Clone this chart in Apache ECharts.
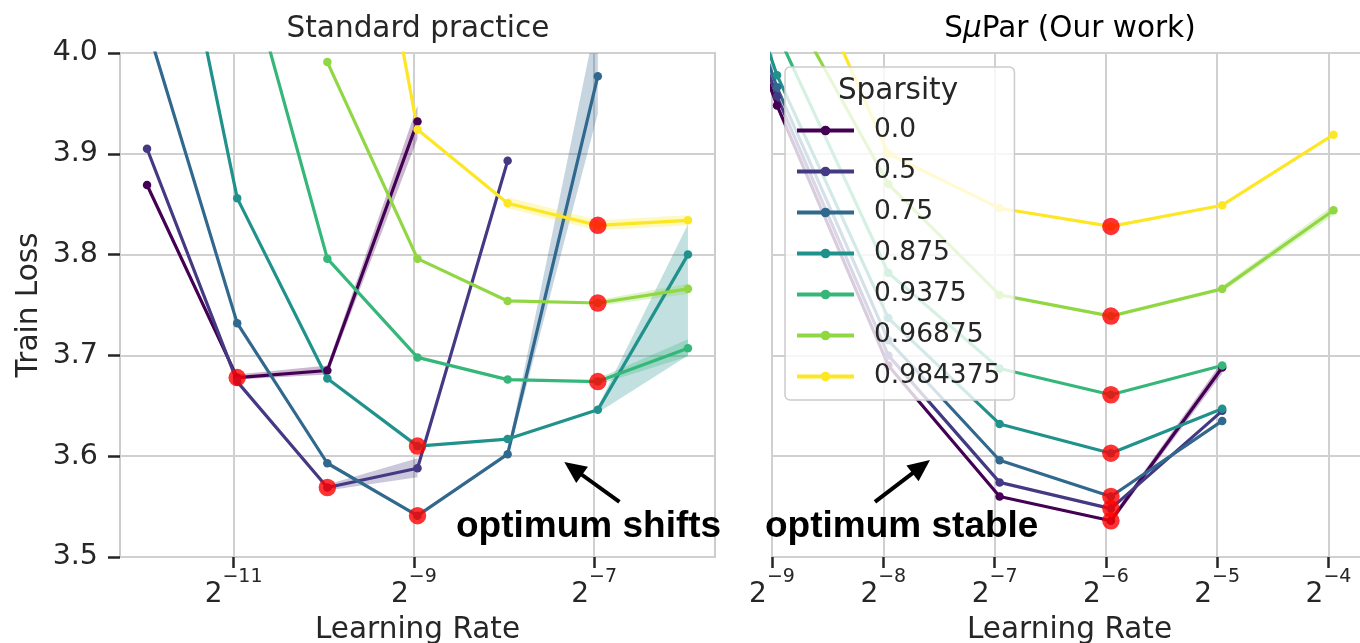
<!DOCTYPE html>
<html>
<head>
<meta charset="utf-8">
<script src="https://cdn.jsdelivr.net/npm/echarts@6/dist/echarts.min.js"></script>
<style>
  html, body { margin: 0; padding: 0; background: #ffffff; }
  #chart { width: 1360px; height: 643px; }
</style>
</head>
<body>
<div id="chart"></div>
<script>
// Sparsity levels and their viridis colours
const sparsities = ['0.0', '0.5', '0.75', '0.875', '0.9375', '0.96875', '0.984375'];
const colors = ['#440154', '#443983', '#31688e', '#21918c', '#35b779', '#90d743', '#fde725'];

// Learning rates as log2 exponents (standard parameterisation)
const lrLeft = [-11.96, -10.96, -9.96, -8.96, -7.96, -6.96, -5.96];
const lossLeft_0 = [3.869, 3.678, 3.685, 3.932, null, null, null];
const lossLeft_1 = [3.905, 3.674, 3.569, 3.588, 3.893, null, null];
const lossLeft_2 = [4.027, 3.732, 3.593, 3.541, 3.602, 3.977, null];
const lossLeft_3 = [4.290, 3.856, 3.677, 3.610, 3.617, 3.646, 3.800];
const lossLeft_4 = [null, 4.120, 3.796, 3.698, 3.676, 3.674, 3.707];
const lossLeft_5 = [null, null, 3.991, 3.796, 3.754, 3.752, 3.766];
const lossLeft_6 = [null, null, 4.410, 3.924, 3.851, 3.829, 3.834];

// Learning rates as log2 exponents (SμPar)
const lrRight = [-9.955, -8.955, -7.955, -6.955, -5.955, -4.955, -3.955];
const lossRight_0 = [4.250, 3.948, 3.690, 3.560, 3.536, 3.688, null];
const lossRight_1 = [4.260, 3.957, 3.700, 3.574, 3.548, 3.645, null];
const lossRight_2 = [4.280, 3.966, 3.715, 3.596, 3.560, 3.635, null];
const lossRight_3 = [4.300, 3.978, 3.737, 3.632, 3.603, 3.647, null];
const lossRight_4 = [null, 4.020, 3.782, 3.687, 3.661, 3.690, null];
const lossRight_5 = [null, 4.070, 3.870, 3.760, 3.739, 3.766, 3.844];
const lossRight_6 = [null, 4.150, 3.900, 3.846, 3.828, 3.849, 3.919];

// Seed-spread bands: [lr exponent, low, high]
const bandLeft_0 = [[-10.96, 3.676, 3.681], [-9.96, 3.681, 3.690], [-8.96, 3.915, 3.948]];
const bandLeft_1 = [[-9.96, 3.566, 3.572], [-8.96, 3.579, 3.598]];
const bandLeft_2 = [[-7.96, 3.598, 3.606], [-6.96, 3.940, 4.040]];
const bandLeft_3 = [[-6.96, 3.643, 3.649], [-5.96, 3.700, 3.830]];
const bandLeft_4 = [[-6.96, 3.671, 3.677], [-5.96, 3.699, 3.716]];
const bandLeft_5 = [[-6.96, 3.749, 3.755], [-5.96, 3.761, 3.771]];
const bandLeft_6 = [[-7.96, 3.846, 3.857], [-6.96, 3.824, 3.834], [-5.96, 3.829, 3.839]];
const bandRight_0 = [[-5.955, 3.533, 3.539], [-4.955, 3.682, 3.694]];
const bandRight_5 = [[-4.955, 3.763, 3.769], [-3.955, 3.839, 3.849]];

const lossLeft = [lossLeft_0, lossLeft_1, lossLeft_2, lossLeft_3, lossLeft_4, lossLeft_5, lossLeft_6];
const lossRight = [lossRight_0, lossRight_1, lossRight_2, lossRight_3, lossRight_4, lossRight_5, lossRight_6];
const bandsLeft = [[0, bandLeft_0], [1, bandLeft_1], [2, bandLeft_2], [3, bandLeft_3], [4, bandLeft_4], [5, bandLeft_5], [6, bandLeft_6]];
const bandsRight = [[0, bandRight_0], [5, bandRight_5]];

// Tick exponents
const xTicksLeft = [-11, -9, -7];

const FONT = 'DejaVu Sans';
const INK = '#262626';
const GRIDC = '#d0d0d0';

function pairs(lrs, vals) {
  return lrs.map((x, i) => [x, vals[i]]).filter(p => p[1] !== null);
}
function bestPoint(lrs, vals) {
  let best = null;
  lrs.forEach((x, i) => {
    if (vals[i] !== null && (best === null || vals[i] < best[1])) best = [x, vals[i]];
  });
  return best;
}
function powLabel(v) {
  return '{b|2}{s|\u2212' + Math.abs(Math.round(v)) + '}';
}
const powRich = {
  b: { fontFamily: FONT, fontSize: 28, color: INK, lineHeight: 28, padding: [13, 0, 0, 0], verticalAlign: 'top' },
  s: { fontFamily: FONT, fontSize: 19, color: INK, lineHeight: 20, verticalAlign: 'top' }
};

function bandSeries(axisIdx, band, color) {
  return {
    type: 'custom', xAxisIndex: axisIdx, yAxisIndex: axisIdx, silent: true, clip: true, z: 1,
    data: [[band[0][0], band[0][1]]],
    renderItem: function (params, api) {
      const upper = band.map(b => api.coord([b[0], b[2]]));
      const lower = band.slice().reverse().map(b => api.coord([b[0], b[1]]));
      return { type: 'polygon', shape: { points: upper.concat(lower) }, style: { fill: color, opacity: 0.28 } };
    }
  };
}

const series = [];
bandsLeft.forEach(([k, b]) => series.push(bandSeries(0, b, colors[k])));
bandsRight.forEach(([k, b]) => series.push(bandSeries(1, b, colors[k])));

[[lrLeft, lossLeft, 0], [lrRight, lossRight, 1]].forEach(([lrs, losses, ax]) => {
  losses.forEach((vals, k) => {
    series.push({
      name: sparsities[k], type: 'line', xAxisIndex: ax, yAxisIndex: ax,
      data: pairs(lrs, vals), clip: true,
      symbol: 'circle', symbolSize: 8.5, showSymbol: true,
      lineStyle: { color: colors[k], width: 3.2 }, itemStyle: { color: colors[k] },
      emphasis: { disabled: true }, z: 2
    });
  });
  series.push({
    name: 'optimum', type: 'scatter', xAxisIndex: ax, yAxisIndex: ax,
    data: losses.map(vals => bestPoint(lrs, vals)),
    symbolSize: 17.5, itemStyle: { color: '#ff0000' }, z: 3, silent: true
  });
});

// Annotation arrows, placed in data space of each panel
series.push({
  type: 'line', xAxisIndex: 0, yAxisIndex: 0, data: [], silent: true,
  markLine: {
    silent: true, symbol: ['none', 'triangle'], symbolSize: [20, 22],
    lineStyle: { color: '#000', width: 4, type: 'solid' }, label: { show: false },
    data: [[{ coord: [-6.72, 3.5546] }, { coord: [-7.233, 3.5878] }]]
  }
});
series.push({
  type: 'line', xAxisIndex: 1, yAxisIndex: 1, data: [], silent: true,
  markLine: {
    silent: true, symbol: ['none', 'triangle'], symbolSize: [20, 22],
    lineStyle: { color: '#000', width: 4, type: 'solid' }, label: { show: false },
    data: [[{ coord: [-8.075, 3.5546] }, { coord: [-7.659, 3.5896] }]]
  }
});

const chart = echarts.init(document.getElementById('chart'), null, { renderer: 'canvas' });
chart.setOption({
  animation: false,
  backgroundColor: '#ffffff',
  grid: [
    { left: 120, top: 53, width: 595, height: 504, show: true, borderColor: '#cccccc', borderWidth: 2,
      backgroundColor: 'transparent', containLabel: false, outerBoundsMode: 'none' },
    { left: 772, top: 53, width: 595, height: 504, show: true, borderColor: '#cccccc', borderWidth: 2,
      backgroundColor: 'transparent', containLabel: false, outerBoundsMode: 'none' }
  ],
  xAxis: [
    {
      type: 'value', gridIndex: 0, min: -12.26, max: -5.66,
      name: 'Learning Rate', nameLocation: 'middle', nameGap: 58,
      nameTextStyle: { fontFamily: FONT, fontSize: 29.5, color: INK },
      axisLine: { show: false },
      axisTick: { show: true, customValues: xTicksLeft, length: 11, lineStyle: { color: INK, width: 2.5 } },
      axisLabel: { customValues: xTicksLeft, formatter: powLabel, rich: powRich, margin: 11 },
      splitLine: { show: true, lineStyle: { color: GRIDC, width: 2 } }
    },
    {
      type: 'value', gridIndex: 1, min: -9, max: -3.654, interval: 1,
      name: 'Learning Rate', nameLocation: 'middle', nameGap: 58,
      nameTextStyle: { fontFamily: FONT, fontSize: 29.5, color: INK },
      axisLine: { show: false },
      axisTick: { show: true, length: 11, lineStyle: { color: INK, width: 2.5 } },
      axisLabel: { formatter: powLabel, rich: powRich, margin: 11, showMaxLabel: false },
      splitLine: { show: true, lineStyle: { color: GRIDC, width: 2 } }
    }
  ],
  yAxis: [
    {
      type: 'value', gridIndex: 0, min: 3.5, max: 4.0, interval: 0.1,
      name: 'Train Loss', nameLocation: 'middle', nameGap: 76,
      nameTextStyle: { fontFamily: FONT, fontSize: 29.5, color: INK },
      axisLine: { show: false },
      axisTick: { show: true, length: 12, lineStyle: { color: INK, width: 2.5 } },
      axisLabel: { fontFamily: FONT, fontSize: 28.5, color: INK, margin: 22, formatter: v => v.toFixed(1) },
      splitLine: { show: true, lineStyle: { color: GRIDC, width: 2 } }
    },
    {
      type: 'value', gridIndex: 1, min: 3.5, max: 4.0, interval: 0.1,
      axisLine: { show: false }, axisTick: { show: false }, axisLabel: { show: false },
      splitLine: { show: true, lineStyle: { color: GRIDC, width: 2 } }
    }
  ],
  legend: {
    data: sparsities, orient: 'vertical', left: 785, top: 67,
    backgroundColor: 'rgba(255,255,255,0.8)', borderColor: '#cccccc', borderWidth: 1.5, borderRadius: 5,
    padding: [50, 14, 10, 10], itemWidth: 57, itemHeight: 12, itemGap: 14,
    lineStyle: { width: 4 },
    textStyle: { fontFamily: FONT, fontSize: 26.5, color: INK, lineHeight: 26, padding: [0, 0, 0, 15] },
    selectedMode: false
  },
  graphic: [
    { type: 'text', z: 100, style: { text: 'Sparsity', x: 898, y: 91, align: 'center', verticalAlign: 'middle', font: '29.5px "DejaVu Sans"', fill: INK } },
    { type: 'text', z: 100, style: { text: 'Standard practice', x: 418, y: 29, align: 'center', verticalAlign: 'middle', font: '29.5px "DejaVu Sans"', fill: INK } },
    { type: 'text', z: 100, style: {
        text: '{a|S}{m|\u03bc}{a|Par (Our work)}', x: 1070, y: 29, align: 'center', verticalAlign: 'middle',
        rich: { a: { fontFamily: FONT, fontSize: 29.5, color: INK }, m: { fontFamily: FONT, fontSize: 29.5, fontStyle: 'italic', color: INK } }
    } },
    { type: 'text', z: 100, style: { text: 'optimum shifts', x: 456, y: 527, align: 'left', verticalAlign: 'middle', font: 'bold 37px "Liberation Sans"', fill: '#000' } },
    { type: 'text', z: 100, style: { text: 'optimum stable', x: 765, y: 527, align: 'left', verticalAlign: 'middle', font: 'bold 37px "Liberation Sans"', fill: '#000' } }
  ],
  series: series
});
</script>
</body>
</html>
